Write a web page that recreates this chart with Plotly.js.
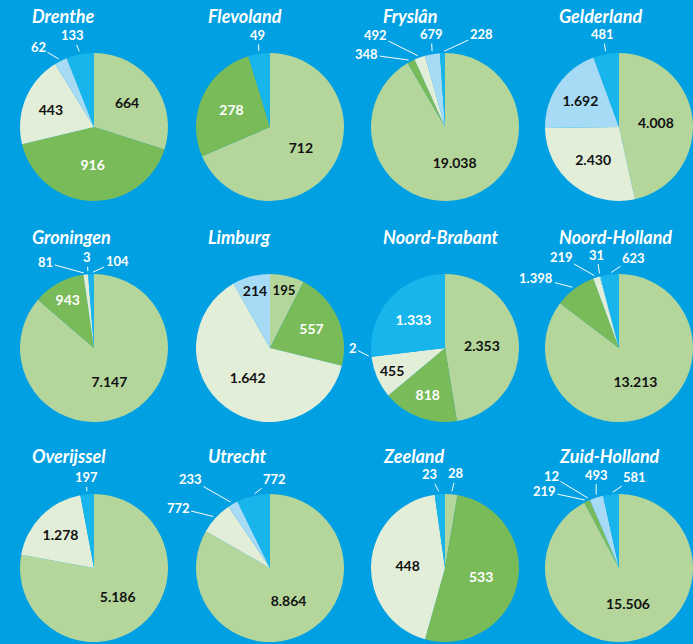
<!DOCTYPE html>
<html>
<head>
<meta charset="utf-8">
<script src="https://cdn.plot.ly/plotly-3.0.1.min.js"></script>
<style>
  html, body { margin: 0; padding: 0; background: #00a0e2; }
  #chart { width: 693px; height: 644px; }
</style>
</head>
<body>
<div id="chart"></div>
<script>
// ---- data ----
var categories = ['Categorie 1', 'Categorie 2', 'Categorie 3', 'Categorie 4', 'Categorie 5'];
var provinces = ['Drenthe', 'Flevoland', 'Fryslân', 'Gelderland',
                 'Groningen', 'Limburg', 'Noord-Brabant', 'Noord-Holland',
                 'Overijssel', 'Utrecht', 'Zeeland', 'Zuid-Holland'];
var drenthe      = [664, 916, 443, 62, 133];
var flevoland    = [712, 278, null, null, 49];
var fryslan      = [19038, 348, 492, 679, 228];
var gelderland   = [4008, null, 2430, 1692, 481];
var groningen    = [7147, 943, 81, 3, 104];
var limburg      = [195, 557, 1642, 214, null];
var noordBrabant = [2353, 818, 455, 2, 1333];
var noordHolland = [13213, 1398, 219, 31, 623];
var overijssel   = [5186, null, 1278, null, 197];
var utrecht      = [8864, null, 772, 233, 772];
var zeeland      = [28, 533, 448, null, 23];
var zuidHolland  = [15506, 219, 12, 493, 581];
var seriesValues = [drenthe, flevoland, fryslan, gelderland, groningen, limburg,
                    noordBrabant, noordHolland, overijssel, utrecht, zeeland, zuidHolland];

// ---- style / layout ----
var sliceColors = ['#b4d69b', '#7abb59', '#e3eed9', '#a7dbf5', '#17b5ec'];
var insideTextColors = ['#111111', '#ffffff', '#111111', '#111111', '#ffffff'];
// pixel offsets of outside labels from the slice edge (null = label inside the slice)
var outsideOffsets = [
  [null, null, null, [-22, -13], [-7, -18]],
  [null, null, null, null, [-1, -18]],
  [null, [-44, -6], [-44, -22], [-1, -19], [39, -18]],
  [null, null, null, null, [-3, -19]],
  [null, null, [-40, -11], [-1, -16], [26, -12]],
  [null, null, null, null, null],
  [null, null, null, [-18, -9], null],
  [null, [-38, -10], [-35, -20], [-3, -21], [24, -16]],
  [null, null, null, null, [-1, -16]],
  [null, null, [-37, -9], [-42, -24], [21, -16]],
  [[5, -20], null, null, null, [-10, -19]],
  [null, [-42, -9], [-38, -23], [0, -22], [24, -16]]
];
var colCenters = [94, 270, 445, 619];
var rowCenters = [127, 348, 568];
var titleY = [16, 237, 456];
var titleX = [30, 206, 381, 557];
var R = 74, W = 693, H = 644;

function fmt(v) {
  return String(v).replace(/\B(?=(\d{3})+(?!\d))/g, '.');
}

var traces = [];
var annotations = [];
seriesValues.forEach(function (vals, k) {
  var col = k % 4, row = Math.floor(k / 4);
  var cx = colCenters[col], cy = rowCenters[row];
  var offs = outsideOffsets[k];
  traces.push({
    type: 'pie',
    name: provinces[k],
    labels: categories,
    values: vals,
    text: vals.map(function (v) { return v == null ? '' : fmt(v); }),
    textinfo: 'text',
    textposition: offs.map(function (o) { return o ? 'none' : 'inside'; }),
    insidetextorientation: 'horizontal',
    insidetextfont: { family: 'Lato', size: 14, color: insideTextColors, weight: 'bold' },
    marker: { colors: sliceColors, line: { width: 0 } },
    sort: false,
    direction: 'clockwise',
    rotation: 0,
    hoverinfo: 'none',
    showlegend: false,
    domain: {
      x: [(cx - R) / W, (cx + R) / W],
      y: [1 - (cy + R) / H, 1 - (cy - R) / H]
    }
  });
  annotations.push({
    text: provinces[k],
    xref: 'paper', yref: 'paper',
    x: titleX[col] / W, y: 1 - titleY[row] / H,
    xanchor: 'left', yanchor: 'middle',
    showarrow: false,
    font: { family: 'Lato', size: 18, color: '#ffffff', weight: 'bold', style: 'italic' }
  });
  // outside labels with leader lines, anchored at the slice's mid-angle on its edge
  var total = vals.reduce(function (s, v) { return s + (v || 0); }, 0);
  var cum = 0;
  vals.forEach(function (v, i) {
    if (v == null) return;
    var mid = (cum + v / 2) / total * 2 * Math.PI;
    cum += v;
    if (!offs[i]) return;
    var px = cx + (R + 1) * Math.sin(mid);
    var py = cy - (R + 1) * Math.cos(mid);
    annotations.push({
      text: fmt(v),
      xref: 'paper', yref: 'paper',
      x: px / W, y: 1 - py / H,
      ax: offs[i][0], ay: offs[i][1],
      showarrow: true, arrowhead: 0, arrowwidth: 1, arrowcolor: '#ffffff',
      standoff: 2,
      font: { family: 'Lato', size: 13, color: '#ffffff', weight: 'bold' }
    });
  });
});

var layout = {
  width: W, height: H,
  margin: { l: 0, r: 0, t: 0, b: 0 },
  paper_bgcolor: '#00a0e2',
  plot_bgcolor: '#00a0e2',
  annotations: annotations,
  showlegend: false
};

Plotly.newPlot('chart', traces, layout, { staticPlot: true });
</script>
</body>
</html>
